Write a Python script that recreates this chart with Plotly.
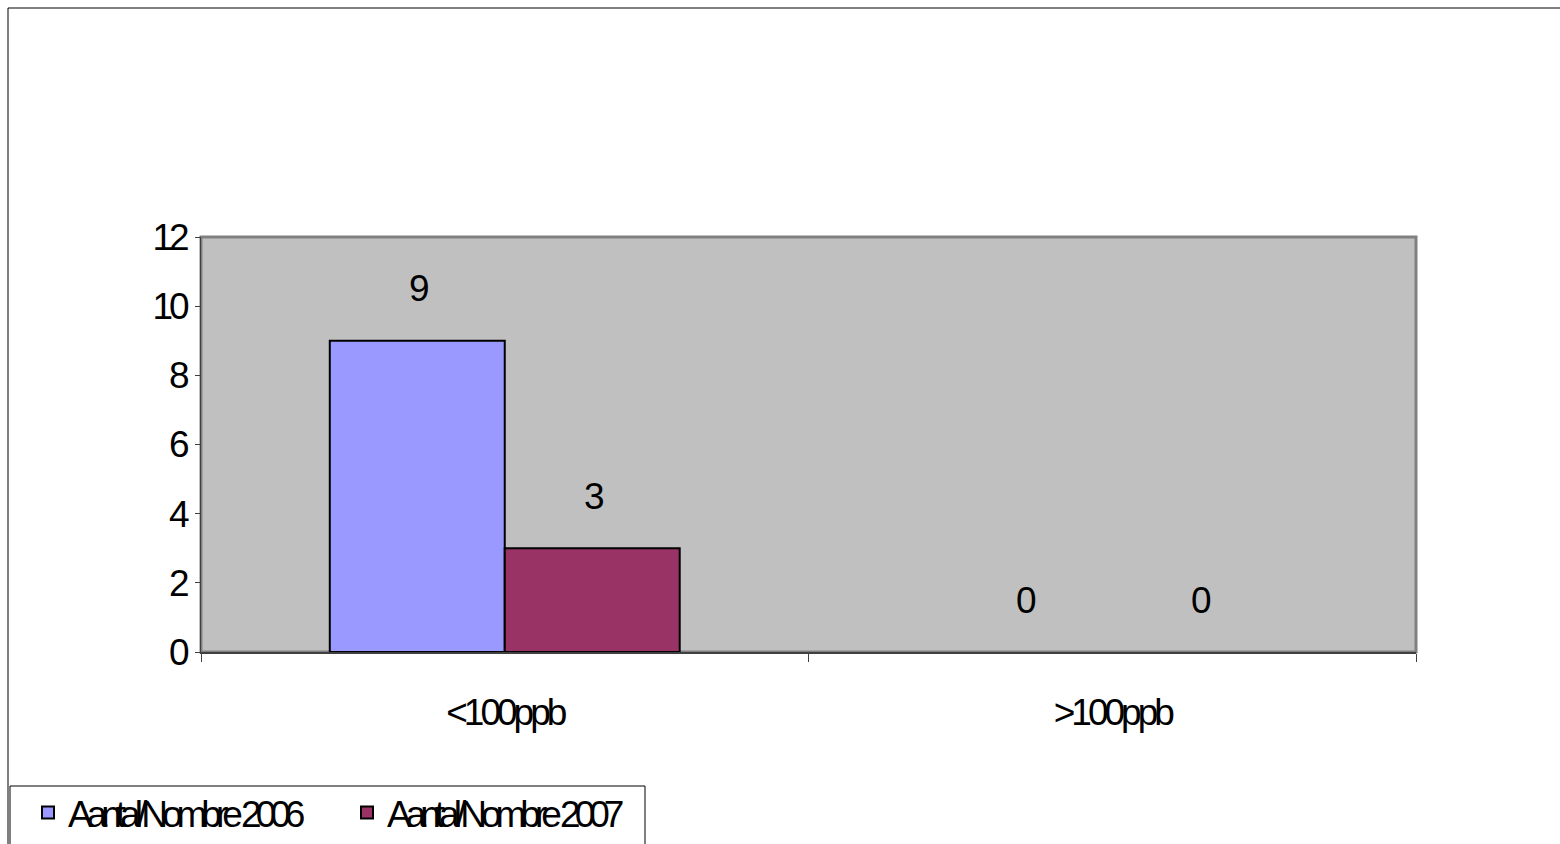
import plotly.graph_objects as go

categories = ["<100ppb", ">100ppb"]
series_names = ["Aantal/Nombre 2006", "Aantal/Nombre 2007"]
values_2006 = [9, 0]
values_2007 = [3, 0]
colors = ["#9999FF", "#993366"]
y_ticks = [0, 2, 4, 6, 8, 10, 12]

FONT = "Liberation Sans, Arial, sans-serif"
FS = 37
W, H = 1560, 844
L, R, T, B = 201, 144, 237, 192
pw = W - L - R
ph = H - T - B


def tight(s, sp):
    return '<span style="letter-spacing:%spx">%s</span>' % (sp, s)


fig = go.Figure()
for name, vals, col in zip(series_names, [values_2006, values_2007], colors):
    fig.add_trace(go.Bar(
        x=categories, y=vals, name=tight(name, -6),
        marker=dict(color=col, line=dict(color="black", width=[2 if v > 0 else 0 for v in vals])),
    ))

# value labels
bar_w = pw / len(categories) * (1 - 0.424) / 2
for i, vals in enumerate([values_2006, values_2007]):
    shift = (i - 0.5) * bar_w
    for c, v in zip(categories, vals):
        fig.add_annotation(x=c, y=v, text=str(v), showarrow=False,
                           xshift=shift + 2, yshift=52, yanchor="middle",
                           font=dict(family=FONT, size=FS, color="black"))


def px_x(p):
    return (p - L) / pw


def px_y(p):
    return (H - B - p) / ph


# outer chart frame
fig.add_shape(type="rect", xref="paper", yref="paper",
              x0=px_x(8), x1=px_x(1600), y0=px_y(900), y1=px_y(8),
              line=dict(color="black", width=1), fillcolor="rgba(0,0,0,0)", layer="below")
# plot area border
fig.add_shape(type="rect", xref="paper", yref="paper", x0=0, x1=1, y0=0, y1=1,
              line=dict(color="#808080", width=3), fillcolor="rgba(0,0,0,0)", layer="below")
# legend frame
fig.add_shape(type="rect", xref="paper", yref="paper",
              x0=px_x(10), x1=px_x(645), y0=px_y(860), y1=px_y(786),
              line=dict(color="black", width=1), fillcolor="white", layer="below")

fig.update_layout(
    width=W, height=H,
    margin=dict(l=L, r=R, t=T, b=B, pad=0, autoexpand=False),
    paper_bgcolor="white", plot_bgcolor="#C0C0C0",
    barmode="group", bargap=0.424, bargroupgap=0,
    font=dict(family=FONT, size=FS, color="black"),
    showlegend=True,
    legend=dict(orientation="h", xref="container", yref="container",
                x=28 / W, y=1 - 782 / H, xanchor="left", yanchor="top",
                borderwidth=0, bgcolor="rgba(0,0,0,0)",
                font=dict(family=FONT, size=FS, color="black"),
                entrywidth=274, traceorder="normal"),
    xaxis=dict(type="category", showgrid=False, showline=True, linecolor="#404040", linewidth=2,
               ticks="outside", tickson="boundaries", ticklen=8, tickcolor="#404040",
               tickvals=categories, ticktext=[tight(c, -4) for c in categories],
               ticklabelstandoff=27, tickfont=dict(family=FONT, size=FS, color="black"),
               zeroline=False),
    yaxis=dict(range=[0, 12], tickvals=y_ticks, ticktext=[tight(str(t), -4) for t in y_ticks],
               showgrid=False, showline=True,
               linecolor="#404040", linewidth=1, ticks="outside", ticklen=5,
               tickcolor="#404040", tickfont=dict(family=FONT, size=FS, color="black"),
               zeroline=False, ticklabelstandoff=2),
)

fig.write_html("out.html", config={"displayModeBar": False},
               post_script="document.body.style.margin='0';document.body.style.overflow='hidden';")
